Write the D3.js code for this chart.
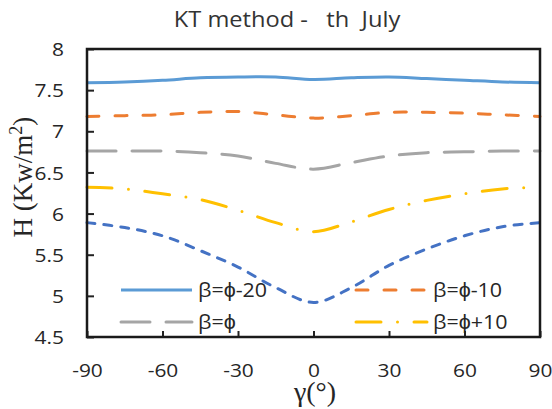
<!DOCTYPE html>
<html>
<head>
<meta charset="utf-8">
<script src="https://cdn.jsdelivr.net/npm/d3@7"></script>
<style>
  html, body { margin: 0; padding: 0; background: #fff; }
  svg { display: block; }
  text { white-space: pre; }
</style>
</head>
<body>
<svg id="chart" width="552" height="409"></svg>
<script>
// ---- data ----
const gamma = [-90, -75, -60, -45, -30, -15, 0, 15, 30, 45, 60, 75, 90];
const hBetaMinus20 = [7.59, 7.60, 7.62, 7.65, 7.66, 7.66, 7.63, 7.65, 7.66, 7.64, 7.62, 7.60, 7.59];
const hBetaMinus10 = [7.18, 7.19, 7.20, 7.23, 7.24, 7.20, 7.16, 7.19, 7.23, 7.23, 7.22, 7.20, 7.18];
const hBeta = [6.76, 6.76, 6.76, 6.74, 6.70, 6.61, 6.54, 6.62, 6.70, 6.74, 6.75, 6.76, 6.76];
const hBetaPlus10 = [6.32, 6.30, 6.24, 6.17, 6.04, 5.89, 5.78, 5.90, 6.05, 6.16, 6.24, 6.30, 6.32];
const hBetaPlus20 = [5.89, 5.83, 5.73, 5.55, 5.35, 5.10, 4.92, 5.10, 5.37, 5.57, 5.73, 5.84, 5.89];
const seriesNames = ["β=ϕ-20", "β=ϕ-10", "β=ϕ", "β=ϕ+10", ""];
const xTicks = [-90, -60, -30, 0, 30, 60, 90];
const xTickLabels = ["-90", "-60", "-30", "0", "30", "60", "90"];
const yTicks = [4.5, 5, 5.5, 6, 6.5, 7, 7.5, 8];
const yTickLabels = ["4.5", "5", "5.5", "6", "6.5", "7", "7.5", "8"];
const titleText = "KT method -   th  July";

// ---- styles ----
const styles = [
  { color: "#5B9BD5", dash: null },
  { color: "#ED7D31", dash: "12,16" },
  { color: "#A5A5A5", dash: "29,16" },
  { color: "#FFC000", dash: "25,16.5,0,16.5" },
  { color: "#4472C4", dash: "8,9" }
];
const seriesValues = [hBetaMinus20, hBetaMinus10, hBeta, hBetaPlus10, hBetaPlus20];

const svg = d3.select("#chart");
const L = 87, R = 540, T = 49, B = 337;
const x = d3.scaleLinear().domain([-90, 90]).range([L, R]);
const y = d3.scaleLinear().domain([4.5, 8]).range([B, T]);

const sansFont = "'Open Sans', 'Liberation Sans', sans-serif";
const serifFont = "'Liberation Serif', 'DejaVu Serif', serif";
const STRETCH = 1.1;
const textColor = "#262626";

// title
svg.append("text")
  .attr("transform", `translate(287,27) scale(${STRETCH},1)`)
  .attr("text-anchor", "middle")
  .attr("font-family", sansFont).attr("font-size", 21.5)
  .attr("fill", "#333")
  .text(titleText);

// lines
const line = d3.line()
  .x((d, i) => x(gamma[i]))
  .y(d => y(d))
  .curve(d3.curveCatmullRom.alpha(0.5));

const plot = svg.append("g");
seriesValues.forEach((vals, k) => {
  plot.append("path")
    .datum(vals)
    .attr("d", line)
    .attr("fill", "none")
    .attr("stroke", styles[k].color)
    .attr("stroke-width", 3)
    .attr("stroke-linecap", styles[k].dash ? "round" : "butt")
    .attr("stroke-dasharray", styles[k].dash);
});

// axes (inside ticks)
const yAxis = d3.axisLeft(y).tickValues(yTicks).tickSize(-7)
  .tickFormat((d, i) => yTickLabels[i]);
const gy = svg.append("g").attr("transform", `translate(${L},0)`).call(yAxis);
const xAxis = d3.axisBottom(x).tickValues(xTicks).tickSize(-6)
  .tickFormat((d, i) => xTickLabels[i]);
const gx = svg.append("g").attr("transform", `translate(0,${B})`).call(xAxis);
[gx, gy].forEach(g => {
  g.select(".domain").remove();
  g.selectAll(".tick line").attr("stroke", "#222").attr("stroke-width", 2);
  g.selectAll("text").attr("font-family", sansFont).attr("font-size", 19).attr("fill", textColor);
});
gy.selectAll("text")
  .attr("x", null).attr("dy", "0.35em")
  .attr("transform", `translate(-23,0) scale(${STRETCH},1)`);
gx.selectAll("text")
  .attr("y", null).attr("dy", "0.35em")
  .attr("transform", `translate(0,33) scale(${STRETCH},1)`);

// frame
svg.append("rect")
  .attr("x", L).attr("y", T).attr("width", R - L).attr("height", B - T)
  .attr("fill", "none").attr("stroke", "#1a1a1a").attr("stroke-width", 2.5);

// axis titles
svg.append("text")
  .attr("transform", "translate(32,177) rotate(-90)")
  .attr("text-anchor", "middle")
  .attr("font-family", serifFont).attr("font-size", 27).attr("fill", textColor)
  .html('H (Kw/m<tspan baseline-shift="super" font-size="18">2</tspan>)');

svg.append("text")
  .attr("x", 315).attr("y", 401)
  .attr("text-anchor", "middle")
  .attr("font-family", serifFont).attr("font-size", 28).attr("fill", textColor)
  .text("γ(°)");

// legend
const legendPos = [
  { lx: 121, y: 290 }, { lx: 356, y: 290 },
  { lx: 121, y: 322 }, { lx: 356, y: 322 }
];
legendPos.forEach((p, k) => {
  svg.append("line")
    .attr("x1", p.lx).attr("x2", p.lx + 71)
    .attr("y1", p.y).attr("y2", p.y)
    .attr("stroke", styles[k].color).attr("stroke-width", 3)
    .attr("stroke-linecap", styles[k].dash ? "round" : "butt")
    .attr("stroke-dasharray", styles[k].dash);
  svg.append("text")
    .attr("transform", `translate(${p.lx + 77},${p.y}) scale(${STRETCH},1)`)
    .attr("dy", "0.35em")
    .attr("font-family", sansFont).attr("font-size", 19.5).attr("fill", textColor)
    .text(seriesNames[k]);
});
</script>
</body>
</html>
